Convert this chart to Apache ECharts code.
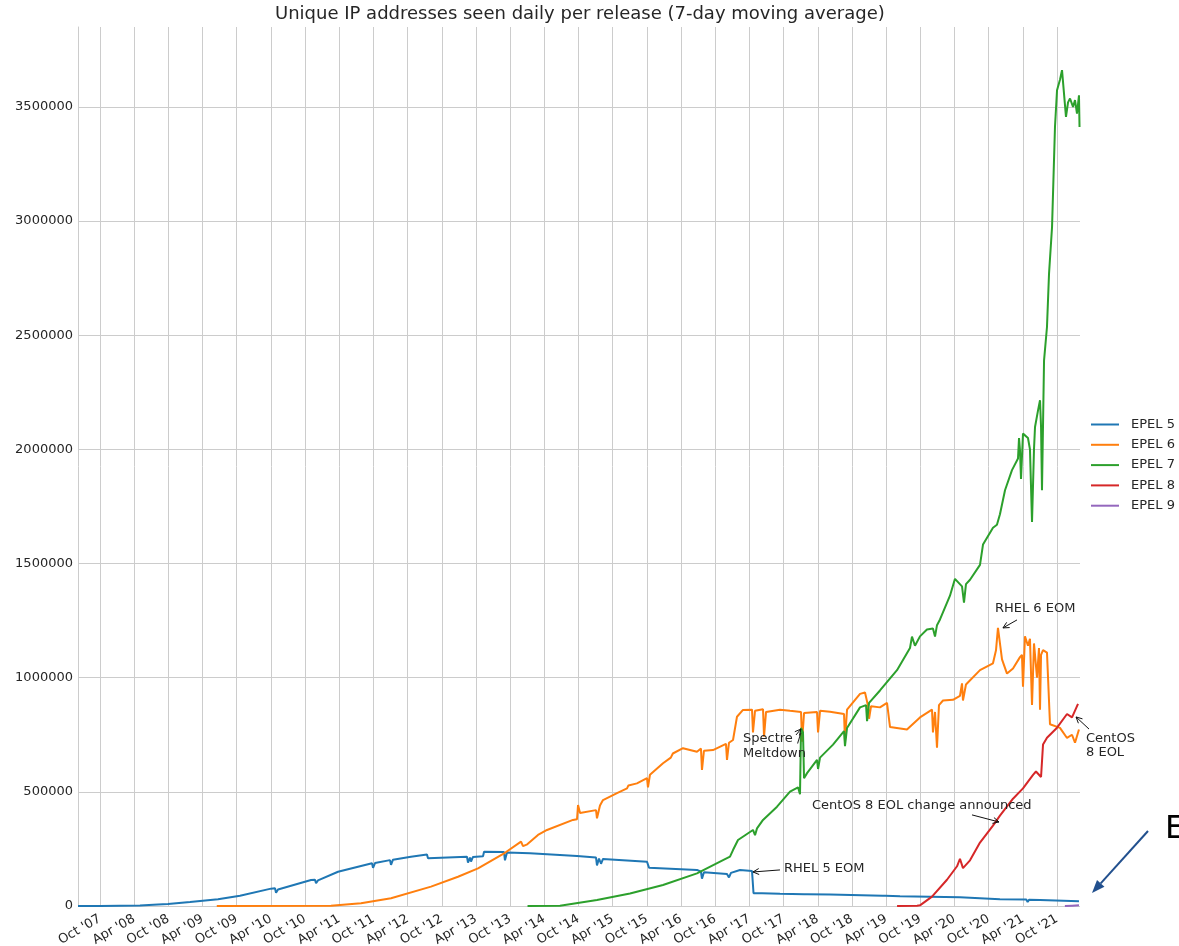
<!DOCTYPE html>
<html><head><meta charset="utf-8">
<script src="https://cdn.jsdelivr.net/npm/echarts@6/dist/echarts.min.js"></script>
<style>html,body{margin:0;padding:0;background:#fff}#c{width:1179px;height:946px}</style>
</head><body><div id="c"></div>
<script>
const chartTitle = 'Unique IP addresses seen daily per release (7-day moving average)';
const seriesNames = ['EPEL 5', 'EPEL 6', 'EPEL 7', 'EPEL 8', 'EPEL 9'];
const colors = ['#1f77b4', '#ff7f0e', '#2ca02c', '#d62728', '#9467bd'];
const xTickValues = [2007.75, 2008.25, 2008.75, 2009.25, 2009.75, 2010.25, 2010.75, 2011.25, 2011.75, 2012.25,
  2012.75, 2013.25, 2013.75, 2014.25, 2014.75, 2015.25, 2015.75, 2016.25, 2016.75, 2017.25, 2017.75, 2018.25,
  2018.75, 2019.25, 2019.75, 2020.25, 2020.75, 2021.25, 2021.75];
const xTickLabels = ["Oct '07", "Apr '08", "Oct '08", "Apr '09", "Oct '09", "Apr '10", "Oct '10", "Apr '11", "Oct '11", "Apr '12",
  "Oct '12", "Apr '13", "Oct '13", "Apr '14", "Oct '14", "Apr '15", "Oct '15", "Apr '16", "Oct '16", "Apr '17", "Oct '17", "Apr '18",
  "Oct '18", "Apr '19", "Oct '19", "Apr '20", "Oct '20", "Apr '21", "Oct '21"];
const yTickValues = [0, 500000, 1000000, 1500000, 2000000, 2500000, 3000000, 3500000];

// [decimal year, unique IPs]
const epel5 = [
  [2007.428, 0], [2007.75, 500], [2008.335, 2000], [2008.598, 7000], [2008.745, 9000], [2009.067, 18000],
  [2009.476, 30000], [2009.798, 45000], [2010.251, 76000], [2010.310, 78000], [2010.325, 58000], [2010.354, 72000],
  [2010.383, 80000], [2010.837, 114000], [2010.895, 115000], [2010.910, 100000], [2010.939, 112000],
  [2011.232, 150000], [2011.729, 187000], [2011.744, 167000], [2011.773, 188000], [2011.992, 201000],
  [2012.007, 180000], [2012.036, 203000], [2012.299, 216000], [2012.533, 226000], [2012.548, 209000],
  [2013.118, 216000], [2013.133, 190000], [2013.162, 212000], [2013.177, 195000], [2013.206, 215000],
  [2013.353, 218000], [2013.368, 238000], [2013.660, 236000], [2013.674, 200000], [2013.704, 234000],
  [2014.040, 231000], [2014.728, 219000], [2015.006, 212000], [2015.020, 178000], [2015.050, 208000],
  [2015.079, 185000], [2015.108, 206000], [2015.752, 194000], [2015.781, 168000], [2016.483, 158000],
  [2016.541, 150000], [2016.556, 120000], [2016.585, 148000], [2016.922, 140000], [2016.951, 125000],
  [2016.980, 145000], [2017.112, 158000], [2017.288, 153000], [2017.310, 55600], [2017.390, 56000],
  [2017.405, 48000], [2017.434, 56000], [2017.697, 54000], [2018.050, 52000], [2018.070, 46000],
  [2018.090, 52000], [2018.429, 50000], [2019.200, 45000], [2019.220, 40000], [2019.240, 45000],
  [2019.453, 43000], [2020.330, 38000], [2020.915, 30000], [2021.300, 28000], [2021.320, 18000],
  [2021.340, 27000], [2021.501, 26000], [2022.071, 21000]
];
const epel6 = [
  [2009.458, 0], [2011.129, 1000], [2011.568, 12000], [2012.007, 34000], [2012.592, 85000], [2012.987, 128000],
  [2013.280, 165000], [2013.674, 233000], [2013.909, 282000], [2013.938, 262000], [2014.000, 270000],
  [2014.157, 311000], [2014.289, 333000], [2014.669, 377000], [2014.728, 380000], [2014.743, 442000],
  [2014.772, 407000], [2015.006, 420000], [2015.020, 384000], [2015.064, 440000], [2015.108, 464000],
  [2015.313, 494000], [2015.460, 515000], [2015.480, 528000], [2015.605, 537000], [2015.752, 560000], [2015.766, 520000], [2015.795, 575000],
  [2015.986, 625000], [2016.100, 650000], [2016.130, 668000], [2016.278, 691000], [2016.483, 676000], [2016.541, 690000], [2016.556, 596000],
  [2016.585, 680000], [2016.717, 683000], [2016.907, 710000], [2016.922, 640000], [2016.951, 715000],
  [2017.010, 727000], [2017.068, 829000], [2017.156, 859000], [2017.288, 860000], [2017.302, 760000],
  [2017.332, 855000], [2017.449, 862000], [2017.464, 742000], [2017.493, 850000], [2017.697, 860000],
  [2017.844, 855000], [2018.005, 850000], [2018.020, 720000], [2018.049, 845000], [2018.239, 850000],
  [2018.254, 760000], [2018.283, 855000], [2018.429, 851000], [2018.634, 841000], [2018.648, 723000],
  [2018.678, 860000], [2018.868, 929000], [2018.941, 935000], [2018.985, 877000], [2019.000, 820000],
  [2019.029, 875000], [2019.160, 870000], [2019.263, 890000], [2019.307, 784000], [2019.555, 773000],
  [2019.745, 826000], [2019.921, 860000], [2019.935, 760000], [2019.965, 850000], [2019.994, 693000],
  [2020.023, 880000], [2020.082, 900000], [2020.228, 903000], [2020.330, 920000], [2020.360, 975000],
  [2020.374, 900000], [2020.418, 970000], [2020.623, 1033000], [2020.813, 1063000], [2020.857, 1120000],
  [2020.886, 1218000], [2020.915, 1210000], [2020.945, 1080000], [2021.018, 1018000], [2021.106, 1040000],
  [2021.208, 1090000], [2021.237, 1100000], [2021.252, 960000], [2021.281, 1181000], [2021.325, 1140000],
  [2021.354, 1170000], [2021.384, 880000], [2021.413, 1150000], [2021.457, 1000000], [2021.486, 1130000],
  [2021.501, 860000], [2021.516, 1100000], [2021.545, 1121000], [2021.603, 1110000], [2021.647, 796000],
  [2021.793, 780000], [2021.896, 736000], [2021.969, 750000], [2022.013, 715000], [2022.071, 773000]
];
const epel7 = [
  [2014.004, 0], [2014.479, 1000], [2015.020, 26000], [2015.503, 55000], [2015.986, 92000], [2016.483, 143000],
  [2016.864, 201000], [2016.966, 216000], [2017.010, 245000], [2017.083, 289000], [2017.302, 333000],
  [2017.332, 310000], [2017.361, 340000], [2017.449, 377000], [2017.654, 435000], [2017.844, 501000],
  [2017.961, 520000], [2017.990, 490000], [2018.005, 780000], [2018.034, 760000], [2018.049, 560000],
  [2018.093, 582000], [2018.239, 640000], [2018.254, 600000], [2018.283, 650000], [2018.473, 707000],
  [2018.634, 766000], [2018.648, 700000], [2018.678, 780000], [2018.868, 870000], [2018.956, 880000],
  [2018.971, 810000], [2019.000, 890000], [2019.160, 944000], [2019.409, 1033000], [2019.599, 1130000],
  [2019.628, 1180000], [2019.672, 1140000], [2019.745, 1181000], [2019.847, 1211000], [2019.935, 1215000],
  [2019.965, 1180000], [2019.994, 1230000], [2020.038, 1255000], [2020.184, 1359000], [2020.257, 1433000],
  [2020.360, 1400000], [2020.389, 1329000], [2020.418, 1410000], [2020.477, 1429000], [2020.623, 1494000],
  [2020.667, 1583000], [2020.813, 1657000], [2020.871, 1670000], [2020.915, 1716000], [2020.989, 1821000],
  [2021.091, 1909000], [2021.179, 1960000], [2021.194, 2050000], [2021.208, 1996000], [2021.223, 1870000],
  [2021.252, 2069000], [2021.325, 2050000], [2021.354, 2000000], [2021.384, 1682000], [2021.413, 2000000],
  [2021.428, 2098000], [2021.472, 2171000], [2021.501, 2215000], [2021.516, 2100000], [2021.530, 1821000],
  [2021.560, 2390000], [2021.603, 2536000], [2021.633, 2770000], [2021.677, 2974000], [2021.720, 3412000],
  [2021.750, 3573000], [2021.794, 3620000], [2021.823, 3661000], [2021.852, 3668000], [2021.881, 3456000],
  [2021.911, 3520000], [2021.940, 3537000], [2021.984, 3500000], [2022.013, 3530000], [2022.042, 3471000],
  [2022.071, 3551000], [2022.079, 3412000]
];
const epel8 = [
  [2019.410, 0], [2019.702, 1000], [2019.745, 3000], [2019.921, 41000], [2020.140, 115000], [2020.287, 174000],
  [2020.330, 207000], [2020.374, 166000], [2020.477, 200000], [2020.623, 278000], [2020.813, 352000],
  [2020.915, 396000], [2021.106, 470000], [2021.252, 515000], [2021.399, 574000], [2021.442, 589000],
  [2021.516, 565000], [2021.530, 559000], [2021.545, 707000], [2021.603, 737000], [2021.750, 781000],
  [2021.896, 841000], [2021.969, 826000], [2022.057, 885000]
];
const epel9 = [
  [2021.865, 0], [2021.970, 1500], [2022.071, 3000]
];
const seriesData = [epel5, epel6, epel7, epel8, epel9];

// annotations: text position, arrow tail, arrow tip (data coords)
const annotations = [
  { text: 'RHEL 6 EOM', pos: [2020.842, 1301000], tail: [2021.164, 1253000], tip: [2020.959, 1218000] },
  { text: 'Spectre /\nMeltdown', pos: [2017.156, 701000], tail: [2017.931, 749000], tip: [2018.004, 775000] },
  { text: 'CentOS 8 EOL change announced', pos: [2018.166, 438000], tail: [2020.506, 399000], tip: [2020.901, 368000] },
  { text: 'RHEL 5 EOM', pos: [2017.756, 162000], tail: [2017.697, 158000], tip: [2017.302, 149000] },
  { text: 'CentOS\n8 EOL', pos: [2022.174, 703000], tail: [2022.218, 775000], tip: [2022.028, 828000] }
];

const FONT = '"DejaVu Sans", sans-serif';
const TXT = '#262626';
const chart = echarts.init(document.getElementById('c'), null, { renderer: 'canvas' });

const option = {
  animation: false,
  backgroundColor: '#ffffff',
  title: {
    text: chartTitle, left: 275, top: 5, padding: 0,
    textStyle: { fontFamily: FONT, fontSize: 18, fontWeight: 'normal', color: TXT }
  },
  legend: {
    orient: 'vertical', left: 1085, top: 413, itemWidth: 28, itemHeight: 14, itemGap: 7.3,
    data: seriesNames,
    itemStyle: { opacity: 0 },
    textStyle: { fontFamily: FONT, fontSize: 13, color: TXT, padding: [0, 0, 0, 7] }
  },
  grid: { left: 78, right: 99, top: 27, bottom: 40, containLabel: false, outerBoundsMode: 'none' },
  xAxis: {
    type: 'value', min: 2007.428, max: 2022.086,
    axisLine: { show: false },
    axisTick: { show: false, customValues: xTickValues },
    axisLabel: {
      customValues: xTickValues, rotate: 30, margin: 12,
      fontFamily: FONT, fontSize: 13, color: TXT,
      formatter: function (v) {
        let best = 0, bd = 1e9;
        xTickValues.forEach((t, i) => { const d = Math.abs(t - v); if (d < bd) { bd = d; best = i; } });
        return xTickLabels[best];
      }
    },
    splitLine: { show: true, lineStyle: { color: '#cccccc', width: 1 } }
  },
  yAxis: {
    type: 'value', min: 0, max: 3850000,
    axisLine: { show: true, lineStyle: { color: '#cccccc', width: 1 } },
    axisTick: { show: false, customValues: yTickValues },
    axisLabel: { customValues: yTickValues, margin: 5, fontFamily: FONT, fontSize: 13, color: TXT,
      formatter: function (v) { return String(Math.round(v)); } },
    splitLine: { show: true, lineStyle: { color: '#cccccc', width: 1 } }
  },
  series: seriesNames.map((name, i) => ({
    name: name, type: 'line', data: seriesData[i], symbol: 'none', showSymbol: false,
    sampling: null, clip: true,
    lineStyle: { color: colors[i], width: 2 }, itemStyle: { color: colors[i] },
    emphasis: { disabled: true }
  }))
};
chart.setOption(option);

function px(p) { return chart.convertToPixel({ gridIndex: 0 }, p); }
function openArrow(p0, p1, color, w, hl, hw) {
  const dx = p1[0] - p0[0], dy = p1[1] - p0[1];
  const L = Math.hypot(dx, dy) || 1, ux = dx / L, uy = dy / L;
  const b = [p1[0] - ux * hl, p1[1] - uy * hl];
  const l = [b[0] - uy * hw, b[1] + ux * hw], r = [b[0] + uy * hw, b[1] - ux * hw];
  return [
    { type: 'polyline', silent: true, shape: { points: [p0, p1] }, style: { stroke: color, lineWidth: w, fill: null } },
    { type: 'polyline', silent: true, shape: { points: [l, p1, r] }, style: { stroke: color, lineWidth: w, fill: null } }
  ];
}
const g = [];
annotations.forEach(a => {
  const p = px(a.pos);
  g.push({ type: 'text', silent: true, x: p[0], y: p[1], z: 100,
    style: { text: a.text, fill: TXT, fontFamily: FONT, fontSize: 13, lineHeight: 14.5, align: 'left', verticalAlign: 'middle' } });
  openArrow(px(a.tail), px(a.tip), '#111111', 1, 6, 3).forEach(e => { e.z = 100; g.push(e); });
});
// external overlay annotation at the lower right edge
g.push({ type: 'text', silent: true, x: 1165, y: 830, z: 100,
  style: { text: 'E', fill: '#000000', fontFamily: FONT, fontSize: 32, align: 'left', verticalAlign: 'middle' } });
(function () {
  const p0 = [1148, 831], p1 = [1092, 893], c = '#22508e';
  const dx = p1[0] - p0[0], dy = p1[1] - p0[1], L = Math.hypot(dx, dy), ux = dx / L, uy = dy / L;
  const hl = 13, hw = 5;
  const b = [p1[0] - ux * hl, p1[1] - uy * hl];
  g.push({ type: 'line', silent: true, z: 100, shape: { x1: p0[0], y1: p0[1], x2: b[0], y2: b[1] }, style: { stroke: c, lineWidth: 2 } });
  g.push({ type: 'polygon', silent: true, z: 100,
    shape: { points: [p1, [b[0] - uy * hw, b[1] + ux * hw], [b[0] + uy * hw, b[1] - ux * hw]] }, style: { fill: c } });
})();
chart.setOption({ graphic: g });
</script>
</body></html>
